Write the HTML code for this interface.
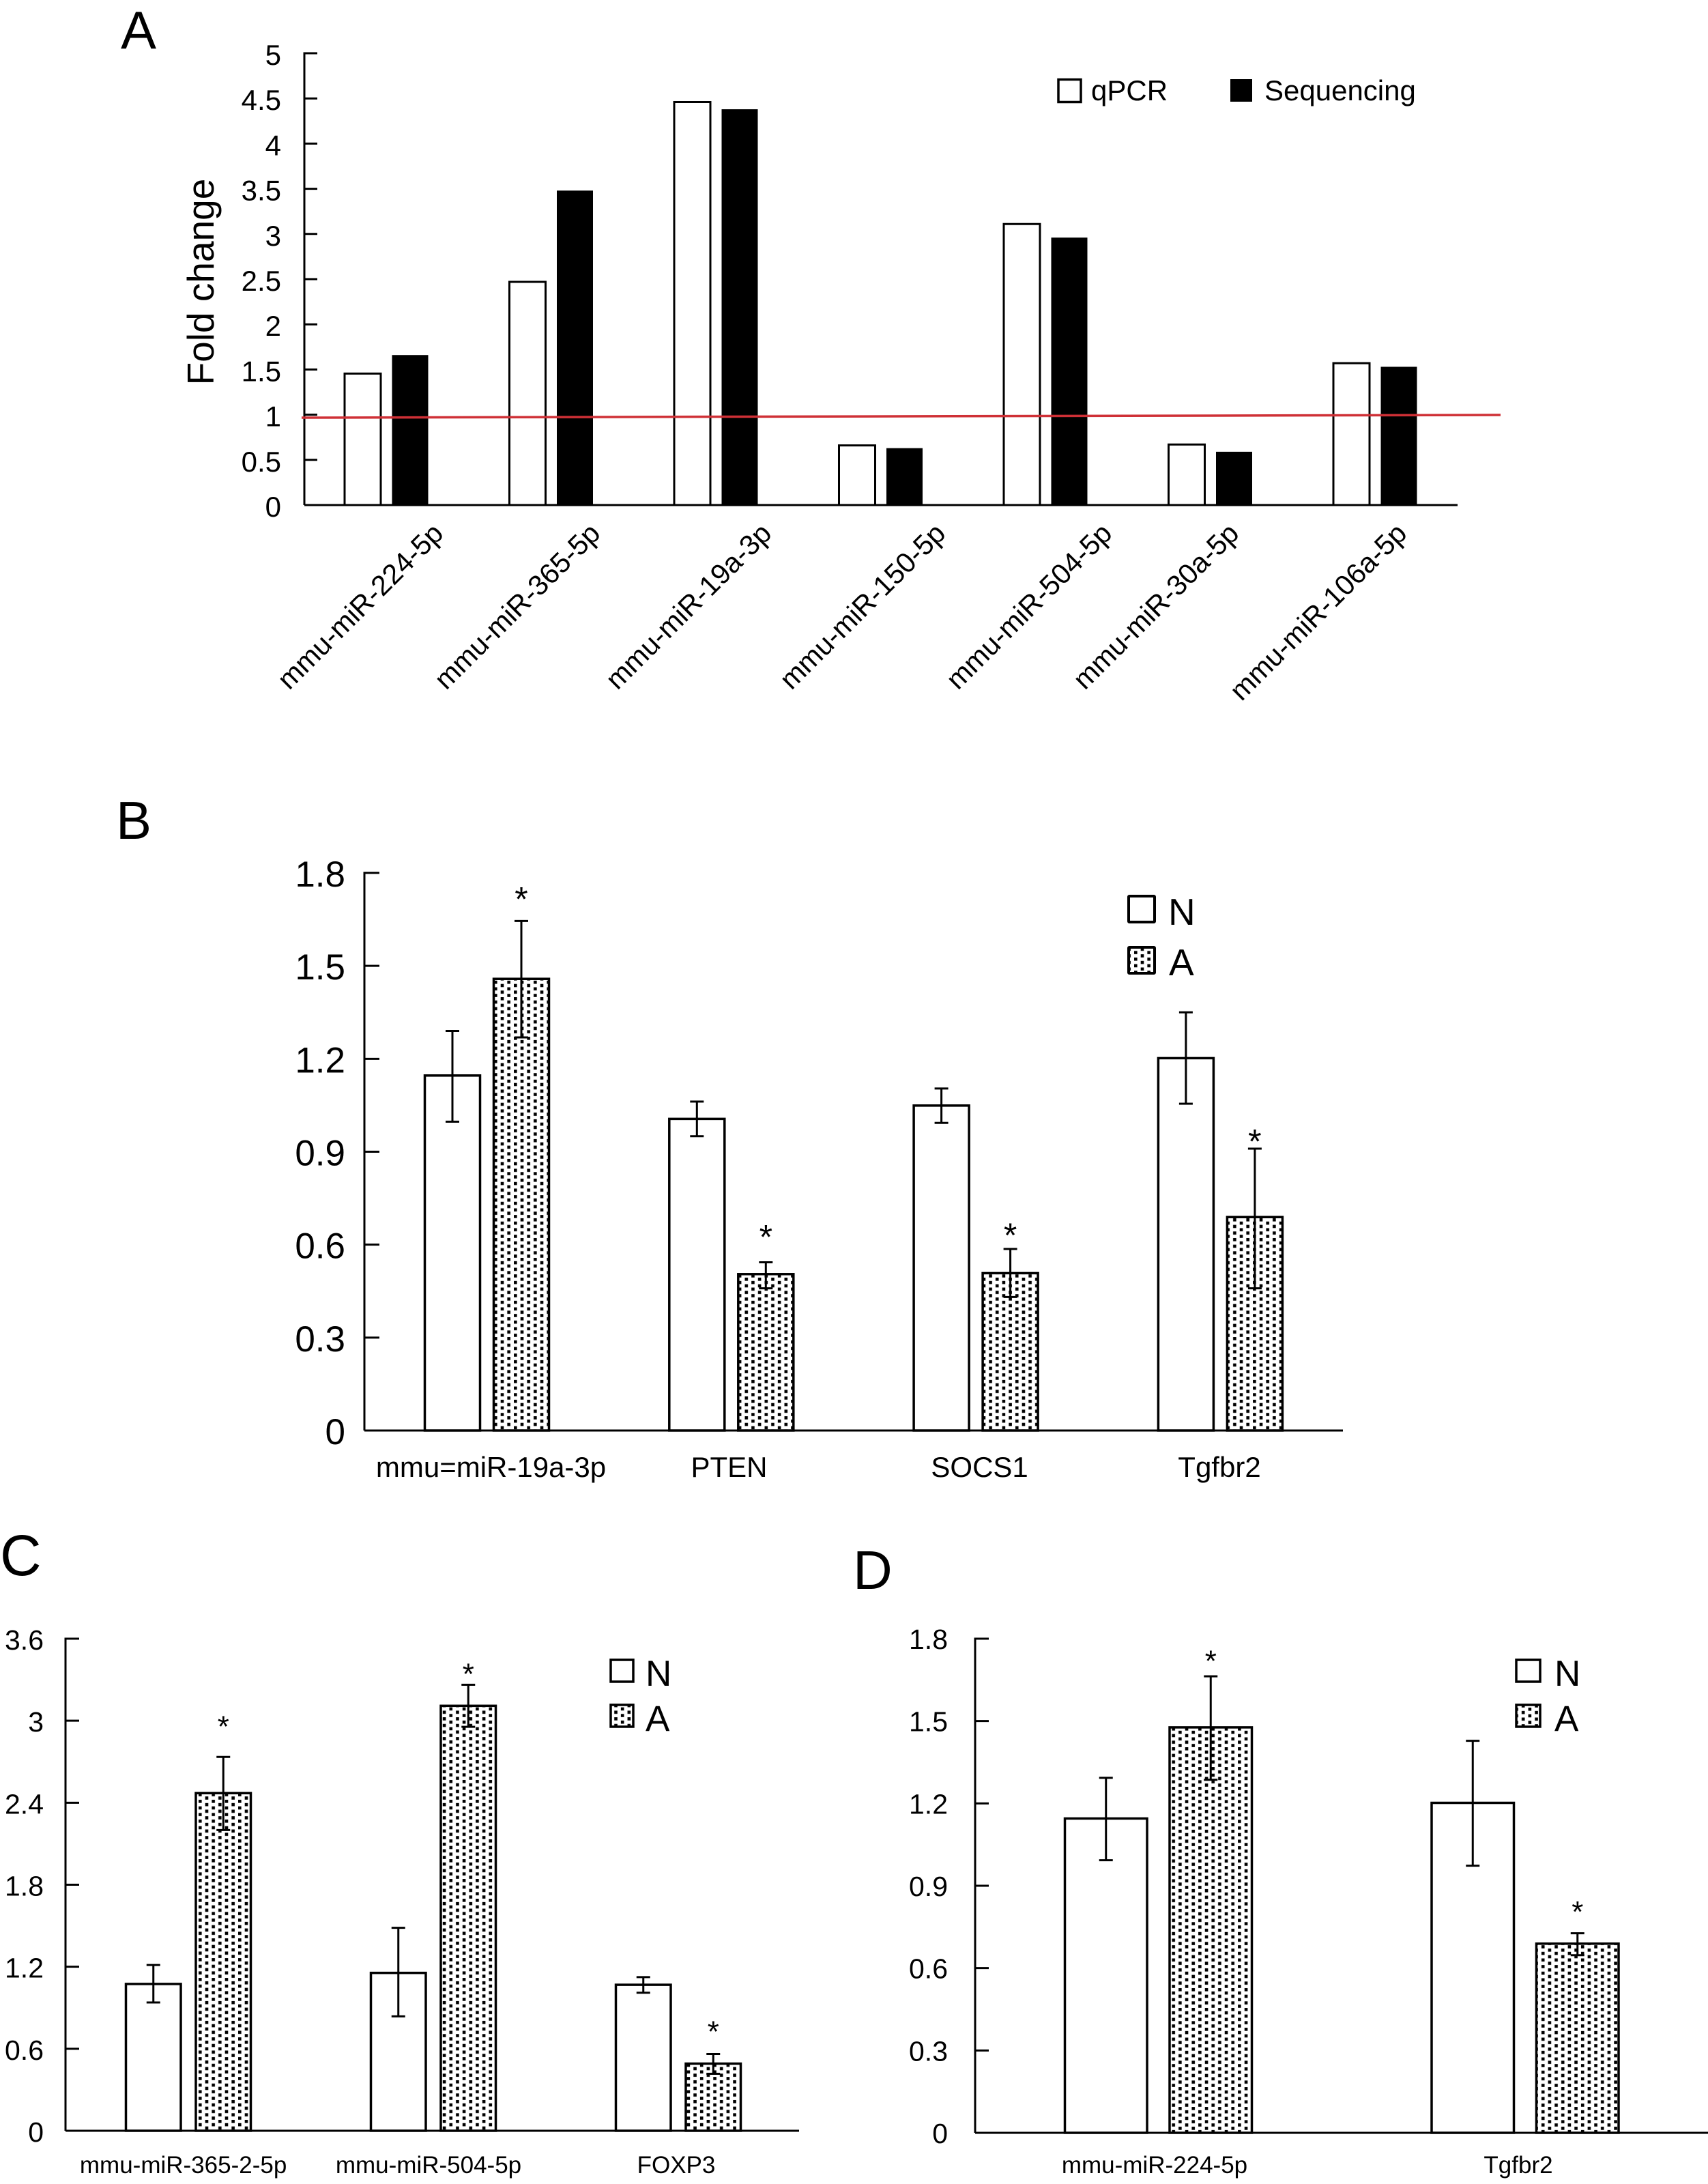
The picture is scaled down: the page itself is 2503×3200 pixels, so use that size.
<!DOCTYPE html>
<html lang="en">
<head>
<meta charset="utf-8">
<title>miRNA fold change and expression charts</title>
<style>
html,body{margin:0;padding:0;background:#fff;}
svg{display:block;}
text{font-family:"Liberation Sans",Arial,sans-serif;fill:#000;}
</style>
</head>
<body>
<svg id="figure" xmlns="http://www.w3.org/2000/svg" width="2503" height="3200" viewBox="0 0 2503 3200">
  <defs>
    <pattern id="dots-b" patternUnits="userSpaceOnUse" width="19.34" height="9.67" patternTransform="translate(732.7 1440.7)">
      <rect width="19.34" height="9.67" fill="#fff"/>
      <rect x="1" y="1" width="4.6" height="4.6" fill="#000"/>
      <rect x="10.67" y="5.83" width="4.6" height="3.84" fill="#000"/>
      <rect x="10.67" y="0" width="4.6" height="0.8" fill="#000"/>
    </pattern>
    <pattern id="dots-c" patternUnits="userSpaceOnUse" width="19.34" height="9.67" patternTransform="translate(290 2636)">
      <rect width="19.34" height="9.67" fill="#fff"/>
      <rect x="1" y="1" width="4.6" height="4.6" fill="#000"/>
      <rect x="10.67" y="5.83" width="4.6" height="3.84" fill="#000"/>
      <rect x="10.67" y="0" width="4.6" height="0.8" fill="#000"/>
    </pattern>
    <pattern id="dots-d" patternUnits="userSpaceOnUse" width="19.34" height="9.67" patternTransform="translate(1716.4 2539.7)">
      <rect width="19.34" height="9.67" fill="#fff"/>
      <rect x="1" y="1" width="4.6" height="4.6" fill="#000"/>
      <rect x="10.67" y="5.83" width="4.6" height="3.84" fill="#000"/>
      <rect x="10.67" y="0" width="4.6" height="0.8" fill="#000"/>
    </pattern>
  </defs>
  <rect width="2503" height="3200" fill="#fff"/>

  <text x="177" y="71" font-size="78">A</text>
  <text x="170" y="1229" font-size="78">B</text>
  <text x="0" y="2308" font-size="84">C</text>
  <text x="1250" y="2328" font-size="80">D</text>

  <g id="panel-a">
    <text transform="translate(313 413) rotate(-90)" text-anchor="middle" font-size="55">Fold change</text>
    <text transform="translate(652 784) rotate(-45)" text-anchor="end" font-size="41.5">mmu-miR-224-5p</text>
    <text transform="translate(882 784) rotate(-45)" text-anchor="end" font-size="41.5">mmu-miR-365-5p</text>
    <text transform="translate(1133 784) rotate(-45)" text-anchor="end" font-size="41.5">mmu-miR-19a-3p</text>
    <text transform="translate(1388 784) rotate(-45)" text-anchor="end" font-size="41.5">mmu-miR-150-5p</text>
    <text transform="translate(1632 784) rotate(-45)" text-anchor="end" font-size="41.5">mmu-miR-504-5p</text>
    <text transform="translate(1818 784) rotate(-45)" text-anchor="end" font-size="41.5">mmu-miR-30a-5p</text>
    <text transform="translate(2064 784) rotate(-45)" text-anchor="end" font-size="41.5">mmu-miR-106a-5p</text>
    <rect x="1551" y="116.5" width="33" height="33" fill="#fff" stroke="#000" stroke-width="3.5"/>
    <text x="1599" y="147" font-size="42">qPCR</text>
    <rect x="1803" y="116" width="32" height="33" fill="#000"/>
    <text x="1853" y="147" font-size="42">Sequencing</text>
  </g>

  <g id="panel-b">
    <rect x="1654" y="1313" width="38" height="38" rx="1" fill="#fff" stroke="#000" stroke-width="4"/>
    <text x="1712" y="1355" font-size="55">N</text>
    <rect x="1654" y="1388" width="38" height="38" rx="1" fill="url(#dots-b)" stroke="#000" stroke-width="4"/>
    <text x="1713" y="1429" font-size="55">A</text>
  </g>

  <g id="panel-c">
    <rect x="895" y="2432" width="33" height="32" fill="#fff" stroke="#000" stroke-width="3.5"/>
    <text x="946" y="2470" font-size="53">N</text>
    <rect x="895" y="2498" width="33" height="32" fill="url(#dots-c)" stroke="#000" stroke-width="3.5"/>
    <text x="946" y="2536" font-size="53">A</text>
  </g>

  <g id="panel-d">
    <rect x="2222" y="2432" width="35" height="32" fill="#fff" stroke="#000" stroke-width="3.5"/>
    <text x="2278" y="2470" font-size="53">N</text>
    <rect x="2222" y="2498" width="35" height="32" fill="url(#dots-d)" stroke="#000" stroke-width="3.5"/>
    <text x="2278" y="2536" font-size="53">A</text>
  </g>
</svg>

<script>
// ---- Panel A data ----
const aCategories = ['mmu-miR-224-5p','mmu-miR-365-5p','mmu-miR-19a-3p','mmu-miR-150-5p','mmu-miR-504-5p','mmu-miR-30a-5p','mmu-miR-106a-5p'];
const aTickLabels = ['0','0.5','1','1.5','2','2.5','3','3.5','4','4.5','5'];
const aQpcr = [1.455,2.47,4.46,0.66,3.11,0.67,1.57];
const aSequencing = [1.66,3.48,4.38,0.63,2.96,0.59,1.53];
const aRedLine = [0.967,0.997];

// ---- Panel B data ----
const bCategories = ['mmu=miR-19a-3p','PTEN','SOCS1','Tgfbr2'];
const bTickLabels = ['0','0.3','0.6','0.9','1.2','1.5','1.8'];
const bN = [1.146,1.006,1.049,1.202];
const bNUpper = [1.29,1.062,1.104,1.35];
const bNLower = [0.997,0.95,0.993,1.055];
const bA = [1.458,0.505,0.508,0.689];
const bAUpper = [1.645,0.543,0.586,0.91];
const bALower = [1.269,0.459,0.431,0.459];
const bStars = [1.73,0.639,0.644,0.947];

// ---- Panel C data ----
const cCategories = ['mmu-miR-365-2-5p','mmu-miR-504-5p','FOXP3'];
const cTickLabels = ['0','0.6','1.2','1.8','2.4','3','3.6'];
const cN = [1.074,1.155,1.068];
const cNUpper = [1.213,1.485,1.124];
const cNLower = [0.939,0.837,1.01];
const cA = [2.47,3.109,0.491];
const cAUpper = [2.735,3.263,0.562];
const cALower = [2.2,2.955,0.417];
const cStars = [2.985,3.37,0.753];

// ---- Panel D data ----
const dCategories = ['mmu-miR-224-5p','Tgfbr2'];
const dTickLabels = ['0','0.3','0.6','0.9','1.2','1.5','1.8'];
const dN = [1.145,1.202];
const dNUpper = [1.293,1.428];
const dNLower = [0.993,0.973];
const dA = [1.477,0.689];
const dAUpper = [1.663,0.727];
const dALower = [1.286,0.647];
const dStars = [1.732,0.818];

const NS = 'http://www.w3.org/2000/svg';
function mk(tag, attrs, parent, txt) {
  const el = document.createElementNS(NS, tag);
  for (const k in attrs) el.setAttribute(k, attrs[k]);
  if (txt !== undefined) el.textContent = txt;
  parent.appendChild(el);
  return el;
}
function slug(s) { return s.toLowerCase().replace(/[^a-z0-9]+/g, '-'); }

function linearY(y0, yMaxPx, maxVal) {
  return function (v) { return y0 + (yMaxPx - y0) * (v / maxVal); };
}

function drawAxes(g, o, y) {
  const xa = mk('line', {x1: o.axisX, x2: o.axisEnd, y1: y(0), y2: y(0), stroke: '#000', 'stroke-width': o.axisW}, g);
  
  
  const top = Number(o.ticks[o.ticks.length - 1]);
  const ya = mk('line', {x1: o.axisX, x2: o.axisX, y1: y(top) - 1.5, y2: y(0), stroke: '#000', 'stroke-width': o.axisW}, g);
  
  
  o.ticks.forEach(function (lab) {
    const v = Number(lab);
    const t = mk('line', {x1: o.axisX, x2: o.axisX + o.tickLen, y1: y(v), y2: y(v), stroke: '#000', 'stroke-width': o.axisW}, g);
    
    
    const l = mk('text', {x: o.tickRight, y: y(v) + o.tickDy, 'text-anchor': 'end', 'font-size': o.tickFont}, g, lab);
    
    
  });
}

function drawBar(g, x, w, val, y, fill, name, sw) {
  const b = mk('rect', {x: x, y: y(val), width: w, height: y(0) - y(val), fill: fill, stroke: fill === '#000' ? 'none' : '#000', 'stroke-width': sw}, g);
  
  
}

function drawError(g, cx, up, lo, y, name) {
  const e = mk('path', {d: 'M' + (cx - 10) + ' ' + y(up) + 'H' + (cx + 10) + 'M' + cx + ' ' + y(up) + 'V' + y(lo) + 'M' + (cx - 10) + ' ' + y(lo) + 'H' + (cx + 10), fill: 'none', stroke: '#000', 'stroke-width': 3}, g);
  
  
}

function drawStar(g, cx, v, y, size, name) {
  const s = mk('text', {x: cx, y: y(v) + size * 0.55 - 4, 'text-anchor': 'middle', 'font-size': size}, g, '*');
  
  
}

// Panel A
(function () {
  const g = document.getElementById('panel-a');
  const y = linearY(740, 78, 5);
  const xWhite = function (i) { return 505 + 241.5 * i; };
  const xBlack = function (i) { return 574.5 + 241.5 * i; };
  const w = 53;
  aCategories.forEach(function (c, i) {
    drawBar(g, xWhite(i), w, aQpcr[i], y, '#fff', 'bar-qpcr-' + slug(c), 3);
    drawBar(g, xBlack(i), w, aSequencing[i], y, '#000', 'bar-sequencing-' + slug(c), 0);
  });
  drawAxes(g, {axisX: 446, axisEnd: 2136, axisW: 3, tickLen: 19, ticks: aTickLabels, tickRight: 412, tickDy: 17, tickFont: 42}, y);
  const red = mk('line', {x1: 442, x2: 2199, y1: y(aRedLine[0]), y2: y(aRedLine[1]), stroke: '#cf3036', 'stroke-width': 3.5}, g);
  
  
})();

function groupedPanel(id, o, cats, n, nUp, nLo, a, aUp, aLo, stars) {
  const g = document.getElementById(id);
  const y = linearY(o.y0, o.yTop, Number(o.ticks[o.ticks.length - 1]));
  const xN = function (i) { return o.xN + o.step * i; };
  const xA = function (i) { return o.xA + o.step * i; };
  cats.forEach(function (c, i) {
    const s = slug(c);
    drawBar(g, xN(i), o.barW, n[i], y, '#fff', 'bar-n-' + s, o.barStroke);
    drawBar(g, xA(i), o.barW, a[i], y, o.dots, 'bar-a-' + s, o.barStroke);
    drawError(g, xN(i) + o.barW / 2, nUp[i], nLo[i], y, 'error-bar-n-' + s);
    drawError(g, xA(i) + o.barW / 2, aUp[i], aLo[i], y, 'error-bar-a-' + s);
    drawStar(g, xA(i) + o.barW / 2, stars[i], y, o.starFont, 'significance-star-' + s);
    const l = mk('text', {x: o.labelX[i], y: o.labelY, 'text-anchor': 'middle', 'font-size': o.labelFont}, g, c);
    
    
  });
  drawAxes(g, o, y);
}

groupedPanel('panel-b', {
  y0: 2096, yTop: 1279, ticks: bTickLabels, axisX: 534, axisEnd: 1968, axisW: 3, tickLen: 22,
  tickRight: 506, tickDy: 20, tickFont: 53, xN: 622.5, xA: 723.5, step: 358.3, barW: 81, barStroke: 3.5,
  dots: 'url(#dots-b)', starFont: 50, labelX: [719.5, 1068.5, 1435.6, 1787], labelY: 2164, labelFont: 42
}, bCategories, bN, bNUpper, bNLower, bA, bAUpper, bALower, bStars);

groupedPanel('panel-c', {
  y0: 3122, yTop: 2401, ticks: cTickLabels, axisX: 96, axisEnd: 1171, axisW: 3, tickLen: 20,
  tickRight: 64, tickDy: 16, tickFont: 41, xN: 184.5, xA: 287, step: 359, barW: 80.5, barStroke: 3.5,
  dots: 'url(#dots-c)', starFont: 44, labelX: [268.6, 628, 991], labelY: 3184, labelFont: 35
}, cCategories, cN, cNUpper, cNLower, cA, cAUpper, cALower, cStars);

groupedPanel('panel-d', {
  y0: 3125, yTop: 2401, ticks: dTickLabels, axisX: 1429, axisEnd: 2503, axisW: 3, tickLen: 20,
  tickRight: 1389, tickDy: 15, tickFont: 41, xN: 1560.5, xA: 1714, step: 537.5, barW: 120.5, barStroke: 3.5,
  dots: 'url(#dots-d)', starFont: 44, labelX: [1692, 2225], labelY: 3184, labelFont: 35
}, dCategories, dN, dNUpper, dNLower, dA, dAUpper, dALower, dStars);
</script>
</body>
</html>
